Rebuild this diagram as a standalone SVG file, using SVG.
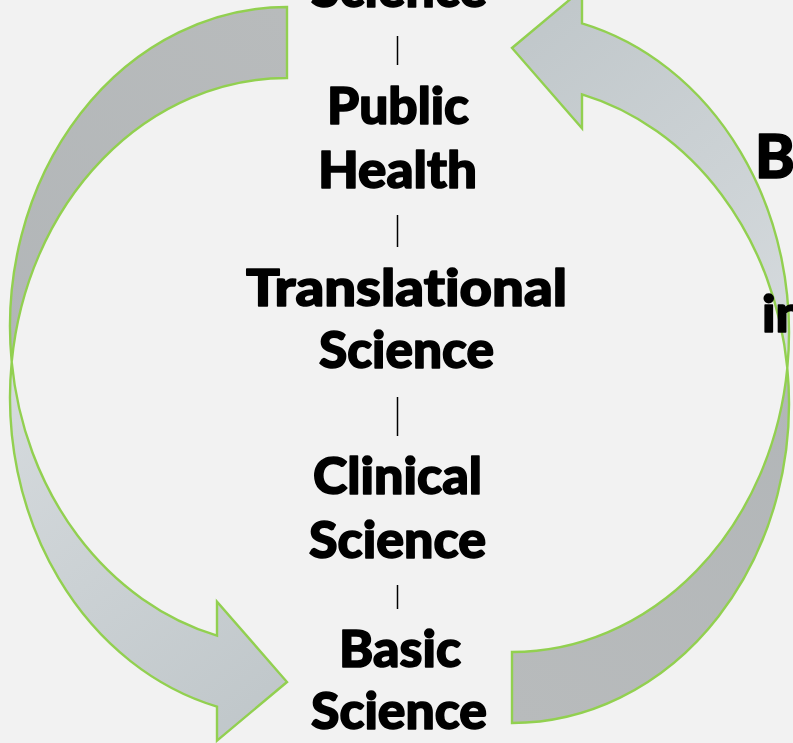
<svg xmlns="http://www.w3.org/2000/svg" width="793" height="743" viewBox="0 0 793 743">
  <defs>
    <linearGradient id="backGrad" gradientUnits="userSpaceOnUse" x1="287" y1="7" x2="11" y2="362">
      <stop offset="0" stop-color="#b8bbbc"/>
      <stop offset="1" stop-color="#b2b6b8"/>
    </linearGradient>
    <linearGradient id="frontGrad" gradientUnits="userSpaceOnUse" x1="11" y1="362" x2="287" y2="700">
      <stop offset="0" stop-color="#d6dbde"/>
      <stop offset="1" stop-color="#c0c7ca"/>
    </linearGradient>
    <g id="curvedArrow">
      <path class="back" d="M287,7 A277,319.5 0 0 0 11.7,362 A277,319.5 0 0 1 287,78 Z"/>
      <path class="front" d="M11.7,362 A277,319.5 0 0 0 217,635.6 L217,601.6 L287,682 L217,740.6 L217,706.6 A277,319.5 0 0 1 11.7,362 Z"/>
    </g>
  </defs>
  <style>
    .back { fill: url(#backGrad); stroke: #92d050; stroke-width: 2.4; stroke-linejoin: miter; }
    .front { fill: url(#frontGrad); stroke: #92d050; stroke-width: 2.4; stroke-linejoin: miter; }
    .lbl { font-family: Lato, "Liberation Sans", "DejaVu Sans", sans-serif; font-weight: 900; font-size: 52px; fill: #000000; stroke: #000000; stroke-width: 1.6; stroke-linejoin: round; text-anchor: middle; font-variant-ligatures: none; }
    .side { font-family: Lato, "Liberation Sans", "DejaVu Sans", sans-serif; font-weight: 900; fill: #000000; stroke: #000000; stroke-width: 1.6; stroke-linejoin: round; font-variant-ligatures: none; }
    .sep { stroke: #000000; stroke-width: 1.5; }
  </style>
  <rect x="0" y="0" width="793" height="743" fill="#f2f2f2"/>

  <g id="cycle-arrows">
    <g id="arrow-left">
      <use href="#curvedArrow"/>
    </g>
    <g id="arrow-right">
      <use href="#curvedArrow" transform="rotate(180 399.5 365)"/>
    </g>
  </g>

  <g id="connectors">
    <line class="sep" x1="397.5" y1="36" x2="397.5" y2="65"/>
    <line class="sep" x1="397.5" y1="215" x2="397.5" y2="247"/>
    <line class="sep" x1="397.5" y1="397" x2="397.5" y2="436"/>
    <line class="sep" x1="397.5" y1="585" x2="397.5" y2="609"/>
  </g>

  <g id="node-top-science">
    <text class="lbl" x="399" y="7" textLength="176" lengthAdjust="spacingAndGlyphs">Science</text>
  </g>
  <g id="node-public-health">
    <text class="lbl" x="398" y="124" textLength="142" lengthAdjust="spacingAndGlyphs">Public</text>
    <text class="lbl" x="397.5" y="188" textLength="159" lengthAdjust="spacingAndGlyphs">Health</text>
  </g>
  <g id="node-translational-science">
    <text class="lbl" x="406.5" y="306" textLength="321" lengthAdjust="spacingAndGlyphs">Translational</text>
    <text class="lbl" x="406.5" y="368" textLength="175" lengthAdjust="spacingAndGlyphs">Science</text>
  </g>
  <g id="node-clinical-science">
    <text class="lbl" x="397.5" y="494" textLength="169" lengthAdjust="spacingAndGlyphs">Clinical</text>
    <text class="lbl" x="397.5" y="558" textLength="177" lengthAdjust="spacingAndGlyphs">Science</text>
  </g>
  <g id="node-basic-science">
    <text class="lbl" x="400" y="667" textLength="122" lengthAdjust="spacingAndGlyphs">Basic</text>
    <text class="lbl" x="399" y="729" textLength="176" lengthAdjust="spacingAndGlyphs">Science</text>
  </g>
  <g id="node-side-text">
    <text class="side" x="755" y="178" font-size="60">B</text>
    <text class="side" x="762" y="332" font-size="52">in</text>
  </g>
</svg>
